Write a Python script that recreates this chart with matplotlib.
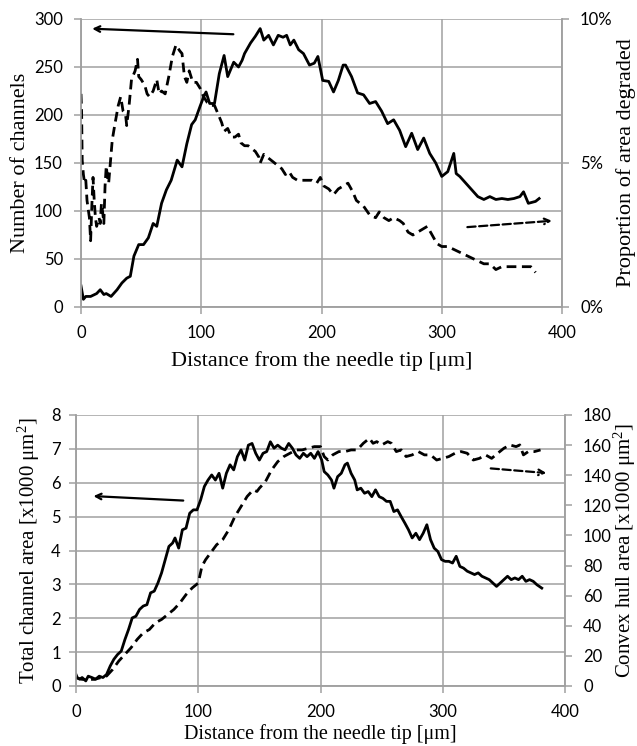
import numpy as np
import matplotlib
matplotlib.use('Agg')
import matplotlib.pyplot as plt

plt.rcParams['font.family'] = ['Lato', 'DejaVu Sans']
plt.rcParams['mathtext.fontset'] = 'custom'
plt.rcParams['mathtext.rm'] = 'Liberation Serif'
plt.rcParams['mathtext.it'] = 'Liberation Serif:italic'

# ---- top panel: number of channels (solid, left axis)
chan_x = [0, 2, 4, 8, 13, 16, 19, 21, 25, 30, 34, 38, 41, 44, 48, 52, 56, 60, 63,
          67, 71, 75, 80, 84, 88, 92, 95, 99, 102, 104, 107, 111, 115, 119, 122,
          127, 131, 134, 136, 141, 145, 149, 152, 156, 160, 164, 168, 171, 174,
          177, 181, 185, 190, 194, 197, 201, 206, 210, 214, 218, 220, 225, 230,
          235, 240, 245, 250, 255, 260, 265, 270, 275, 280, 285, 290, 295, 300,
          305, 310, 312, 315, 320, 325, 330, 335, 340, 345, 350, 355, 360, 365,
          368, 372, 378, 381]
chan_n = [22, 8, 11, 11, 14, 18, 13, 14, 11, 18, 25, 30, 32, 53, 65, 65, 72, 87, 84,
          108, 122, 132, 153, 146, 170, 190, 195, 209, 219, 224, 212, 212, 243, 262, 240,
          255, 250, 257, 264, 275, 282, 290, 278, 283, 273, 283, 281, 283, 273,
          278, 268, 264, 252, 254, 261, 236, 235, 224, 236, 252, 252, 240, 223,
          221, 212, 214, 204, 191, 195, 184, 167, 181, 164, 176, 160, 150, 136,
          141, 160, 139, 136, 129, 122, 115, 112, 115, 112, 113, 112, 113, 115,
          120, 108, 110, 113]

# ---- top panel: proportion of area degraded (dashed, right axis, %)
deg_x = [0, 0.5, 1, 2, 3, 4, 5, 7, 8, 9, 10, 11, 12, 13, 15, 16, 17, 18, 19, 20,
         21, 22, 23, 24, 26, 28, 31, 33, 35, 37, 38, 40, 42, 45, 47, 48, 50, 53,
         55, 57, 60, 63, 65, 67, 70, 73, 76, 79, 82, 84, 86, 88, 90, 93, 96, 99,
         102, 105, 108, 111, 114, 117, 119, 122, 125, 128, 131, 133, 136, 139,
         142, 145, 148, 149, 152, 155, 158, 161, 164, 167, 170, 173, 176, 180,
         183, 186, 189, 192, 196, 199, 202, 206, 210, 214, 218, 222, 226, 229,
         235, 240, 245, 248, 252, 256, 260, 265, 268, 272, 276, 280, 284, 288,
         292, 296, 300, 305, 310, 315, 320, 325, 330, 335, 340, 345, 350, 355,
         360, 365, 370, 374, 378]
deg_p = [7.4, 6.8, 5.1, 4.6, 4.3, 4.4, 3.7, 3.1, 2.3, 3.5, 4.5, 3.7, 3.1, 2.8, 3.1,
         2.9, 3.6, 3.3, 2.9, 4.2, 4.9, 4.5, 4.3, 4.8, 5.8, 6.3, 7.0, 7.3, 6.8, 6.7,
         6.3, 7.0, 7.9, 8.2, 8.6, 8.0, 7.9, 7.7, 7.4, 7.3, 7.5, 7.9, 7.4, 7.5, 7.4,
         8.0, 8.7, 9.1, 8.9, 8.8, 8.0, 7.8, 8.2, 7.8, 7.8, 7.6, 7.3, 7.1, 7.0, 7.0,
         6.7, 6.4, 6.1, 6.2, 5.9, 5.9, 6.0, 5.7, 5.6, 5.6, 5.5, 5.4, 5.2, 5.0, 5.3,
         5.2, 5.1, 5.0, 4.9, 4.8, 4.6, 4.7, 4.5, 4.4, 4.4, 4.4, 4.4, 4.4, 4.3, 4.5,
         4.2, 4.1, 3.9, 4.1, 4.2, 4.3, 4.0, 3.7, 3.5, 3.2, 3.1, 3.3, 3.1, 3.0, 3.1,
         3.0, 2.9, 2.6, 2.5, 2.6, 2.7, 2.8, 2.5, 2.2, 2.1, 2.1, 2.0, 1.9, 1.8, 1.7,
         1.6, 1.5, 1.5, 1.3, 1.4, 1.4, 1.4, 1.4, 1.4, 1.4, 1.2]

# ---- bottom panel: total channel area (solid, left axis, x1000 um^2)
area_x = [0, 1, 3, 5, 8, 10, 13, 16, 19, 22, 25, 28, 31, 34, 37, 40, 43, 46, 49,
          52, 55, 58, 61, 64, 67, 70, 73, 76, 79, 81, 84, 87, 90, 93, 96, 99, 102,
          105, 108, 111, 114, 117, 120, 123, 126, 129, 132, 135, 138, 141, 144,
          147, 150, 153, 156, 159, 162, 165, 168, 171, 174, 177, 180, 183, 186,
          189, 192, 195, 198, 201, 203, 206, 209, 211, 214, 217, 220, 222, 225,
          228, 230, 233, 236, 239, 242, 245, 248, 251, 254, 257, 260, 263, 266,
          269, 272, 275, 278, 281, 284, 287, 290, 293, 296, 299, 302, 305, 308,
          311, 314, 317, 320, 323, 326, 329, 332, 335, 338, 341, 344, 347, 350,
          353, 356, 359, 362, 365, 368, 371, 374, 377, 381]
area_v = [0.34, 0.25, 0.2, 0.25, 0.15, 0.29, 0.25, 0.2, 0.29, 0.25, 0.34, 0.59, 0.79,
          0.93, 1.03, 1.37, 1.67, 2.01, 2.06, 2.26, 2.36, 2.4, 2.75, 2.8, 3.04, 3.34,
          3.73, 4.12, 4.22, 4.37, 4.07, 4.61, 4.66, 5.1, 5.2, 5.2, 5.5, 5.89, 6.08,
          6.23, 6.08, 6.28, 5.84, 6.28, 6.53, 6.38, 6.77, 6.97, 6.67, 7.11, 7.16,
          6.87, 6.67, 6.87, 6.92, 7.21, 7.02, 7.11, 7.02, 6.97, 7.16, 7.02, 6.82,
          6.72, 6.87, 6.77, 6.87, 6.72, 6.92, 6.67, 6.33, 6.23, 6.08, 5.84, 6.18,
          6.28, 6.53, 6.58, 6.28, 6.08, 5.79, 5.84, 5.69, 5.74, 5.59, 5.79, 5.59,
          5.54, 5.45, 5.45, 5.15, 5.2, 5.0, 4.81, 4.61, 4.37, 4.51, 4.32, 4.51, 4.76,
          4.32, 4.07, 3.97, 3.73, 3.68, 3.68, 3.63, 3.83, 3.53, 3.48, 3.39, 3.34,
          3.29, 3.34, 3.24, 3.19, 3.14, 3.04, 2.94, 3.04, 3.14, 3.24, 3.14, 3.19,
          3.14, 3.24, 3.09, 3.14, 3.09, 2.99, 2.89]

# ---- bottom panel: convex hull area (dashed, right axis, x1000 um^2)
hull_x = [0, 5, 10, 15, 20, 25, 30, 35, 40, 45, 50, 55, 60, 65, 70, 75, 80, 85, 90,
          95, 100, 103, 106, 110, 115, 120, 125, 130, 135, 140, 145, 148, 150, 155,
          160, 165, 170, 175, 180, 185, 190, 195, 200, 203, 206, 210, 215, 220,
          225, 230, 235, 240, 243, 246, 250, 255, 258, 262, 266, 270, 275, 280,
          285, 290, 295, 300, 305, 310, 315, 320, 325, 330, 335, 340, 345, 350,
          355, 360, 363, 366, 370, 375, 380]
hull_v = [5.5, 4.4, 4.4, 4.4, 5.5, 6.6, 11.0, 16.6, 21.0, 25.4, 30.9, 35.3, 37.5,
          42.0, 44.2, 47.5, 50.8, 55.2, 60.7, 65.1, 68.4, 79.5, 83.9, 88.3, 93.8,
          97.2, 103.8, 112.6, 119.2, 125.9, 130.3, 129.2, 131.4, 135.8, 143.5,
          149.0, 152.4, 154.6, 156.8, 156.8, 157.9, 159.0, 159.0, 152.4, 150.1,
          153.5, 155.7, 155.7, 156.8, 156.8, 161.2, 164.5, 161.2, 162.3, 160.1,
          162.3, 161.2, 155.7, 156.8, 152.4, 153.5, 155.7, 153.5, 153.5, 150.1,
          151.2, 152.4, 154.6, 155.7, 154.6, 150.1, 151.2, 153.5, 151.2, 154.6,
          157.9, 160.1, 159.0, 160.1, 153.5, 155.7, 155.7, 156.8]

x_ticks = [0, 100, 200, 300, 400]
grid_col = '#a0a0a0'
dash = (0, (3.5, 2))
lw = 2.0
serif = 'Liberation Serif'


def style_axes(ax, ax2):
    ax.set_xlim(0, 400)
    ax.set_xticks(x_ticks)
    ax.grid(True, color=grid_col, lw=1.1)
    ax.set_axisbelow(True)
    for a in (ax, ax2):
        for s in a.spines.values():
            s.set_color(grid_col)
            s.set_linewidth(1.1)
        a.spines['top'].set_visible(False)
        a.tick_params(colors=grid_col, labelcolor='black', labelsize=12,
                      length=5, width=1.1, pad=8)


fig = plt.figure(figsize=(6.37, 7.46), dpi=100)

# top panel
ax1 = fig.add_axes([81/637, 1-307/746, 481/637, 288/746])
ax1r = ax1.twinx()
ax1.plot(chan_x, chan_n, color='black', lw=lw)
ax1r.plot(deg_x, deg_p, color='black', lw=lw, ls=dash)
ax1.set_ylim(0, 300)
ax1.set_yticks(range(0, 301, 50))
ax1r.set_ylim(0, 10)
ax1r.set_yticks([0, 5, 10])
ax1r.set_yticklabels(['0%', '5%', '10%'])
style_axes(ax1, ax1r)
ax1.set_ylabel('Number of channels', family=serif, fontsize=16)
ax1r.set_ylabel('Proportion of area degraded', family=serif, fontsize=16)
ax1.set_xlabel('Distance from the needle tip [μm]', family=serif, fontsize=16)
ax1.yaxis.set_label_coords(-0.105, 0.5)
ax1r.yaxis.set_label_coords(1.112, 0.5)
ax1.xaxis.set_label_coords(0.5, -0.152)
ax1.annotate('', xy=(7, 290), xytext=(129, 284),
             arrowprops=dict(arrowstyle='->', color='black', lw=1.6))
ax1.annotate('', xy=(394, 90), xytext=(319, 83),
             arrowprops=dict(arrowstyle='->', color='black', lw=1.6, ls='--'))

# bottom panel
ax2 = fig.add_axes([76/637, 1-686/746, 489/637, 271/746])
ax2r = ax2.twinx()
ax2.plot(area_x, area_v, color='black', lw=lw)
ax2r.plot(hull_x, hull_v, color='black', lw=lw, ls=dash)
ax2.set_ylim(0, 8)
ax2.set_yticks(range(0, 9))
ax2r.set_ylim(0, 180)
ax2r.set_yticks(range(0, 181, 20))
style_axes(ax2, ax2r)
ax2.tick_params(axis='y', pad=6)
ax2.set_ylabel('Total channel area [x1000 μm$^2$]', family=serif, fontsize=15)
ax2r.set_ylabel('Convex hull area [x1000 μm$^2$]', family=serif, fontsize=15)
ax2.set_xlabel('Distance from the needle tip [μm]', family=serif, fontsize=14.5)
ax2.yaxis.set_label_coords(-0.07, 0.5)
ax2r.yaxis.set_label_coords(1.096, 0.5)
ax2.xaxis.set_label_coords(0.5, -0.142)
ax2.annotate('', xy=(12, 5.61), xytext=(90, 5.47),
             arrowprops=dict(arrowstyle='->', color='black', lw=1.6))
ax2.annotate('', xy=(387, 6.28), xytext=(337, 6.43),
             arrowprops=dict(arrowstyle='->', color='black', lw=1.6, ls='--'))

fig.savefig('out.png', dpi=100)
